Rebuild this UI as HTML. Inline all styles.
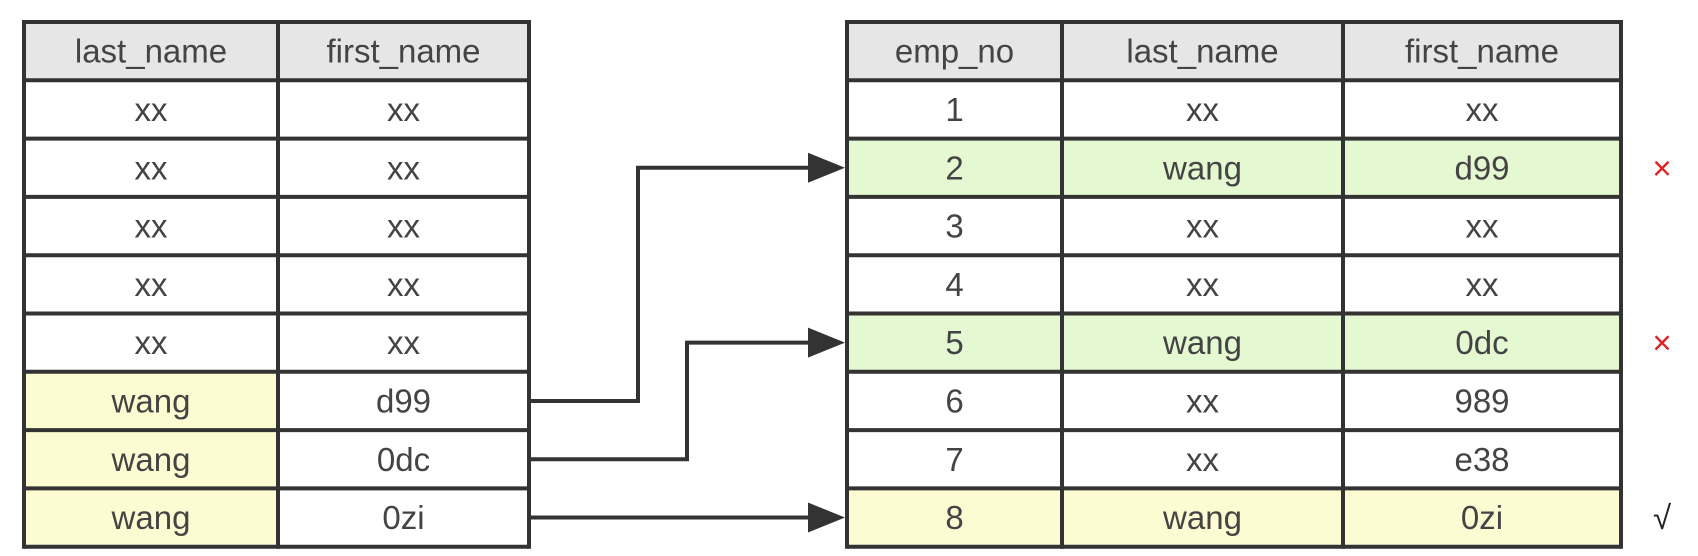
<!DOCTYPE html>
<html><head><meta charset="utf-8"><style>
html,body{margin:0;padding:0;background:#fff;width:1698px;height:556px;overflow:hidden}
svg text{font-family:"Liberation Sans",sans-serif;font-size:33px;fill:#444;text-anchor:middle;dominant-baseline:central}
</style></head><body>
<svg id="s" width="1698" height="556"></svg>
<script>
const leftHeaders=["last_name","first_name"];
const leftRows=[["xx","xx"],["xx","xx"],["xx","xx"],["xx","xx"],["xx","xx"],["wang","d99"],["wang","0dc"],["wang","0zi"]];
const leftHighlight=[0,0,0,0,0,1,1,1];
const rightHeaders=["emp_no","last_name","first_name"];
const rightRows=[["1","xx","xx"],["2","wang","d99"],["3","xx","xx"],["4","xx","xx"],["5","wang","0dc"],["6","xx","989"],["7","xx","e38"],["8","wang","0zi"]];
const rightHighlight=[0,2,0,0,2,0,0,1];
const marks=["","×","","","×","","","√"];
const links=[[5,1],[6,4],[7,7]];
const svg=document.getElementById('s');
const NS="http://www.w3.org/2000/svg";
const top0=22,rh=58.3;
function rowY(i){return top0+rh*(i+1);}
function mk(t,a,p){const e=document.createElementNS(NS,t);for(const k in a)e.setAttribute(k,a[k]);(p||svg).appendChild(e);return e;}
function table(xs,headers,rows,hl,name){
  const g=mk('g',{});
  
  
  const bg=['#ffffff','#fdfbd2','#e4f8d2'];
  for(let c=0;c<headers.length;c++){
    mk('rect',{x:xs[c],y:top0,width:xs[c+1]-xs[c],height:rh,fill:'#e6e6e6'},g);
    const t=mk('text',{x:(xs[c]+xs[c+1])/2,y:top0+rh/2},g);t.textContent=headers[c];
    
    
  }
  rows.forEach((row,i)=>{
    row.forEach((v,c)=>{
      let f=bg[hl[i]];
      if(hl[i]===1&&name==='source-table'&&c>0)f='#ffffff';
      mk('rect',{x:xs[c],y:rowY(i),width:xs[c+1]-xs[c],height:rh,fill:f},g);
      const t=mk('text',{x:(xs[c]+xs[c+1])/2,y:rowY(i)+rh/2},g);t.textContent=v;
      
      
    });
  });
  const bot=rowY(rows.length);
  for(let i=0;i<=rows.length+1;i++){const y=top0+rh*i;mk('line',{x1:xs[0],x2:xs[xs.length-1],y1:y,y2:y,stroke:'#333',"stroke-width":4},g);}
  xs.forEach(x=>mk('line',{x1:x,x2:x,y1:top0-2,y2:bot+2,stroke:'#333',"stroke-width":4},g));
}
table([24,278,529],leftHeaders,leftRows,leftHighlight,'source-table');
table([847,1062,1343,1621],rightHeaders,rightRows,rightHighlight,'employees-table');
const elbow=[638,687,null];
links.forEach(([a,b],k)=>{
  const y1=rowY(a)+rh/2,y2=rowY(b)+rh/2;
  let d;
  if(y1===y2)d=`M529 ${y1} H814`;else d=`M529 ${y1} H${elbow[k]} V${y2} H814`;
  const p=mk('path',{d:d,fill:'none',stroke:'#333',"stroke-width":4});
  
  
  const h=mk('polygon',{points:`808,${y2-15} 845,${y2} 808,${y2+15}`,fill:'#333'});
  
  
});
marks.forEach((m,i)=>{
  if(!m)return;
  const t=mk('text',{x:1662,y:rowY(i)+rh/2});
  t.style.fill=m==='√'?'#222':'#e02020';
  t.textContent=m;
  
  
});
</script>
</body></html>
